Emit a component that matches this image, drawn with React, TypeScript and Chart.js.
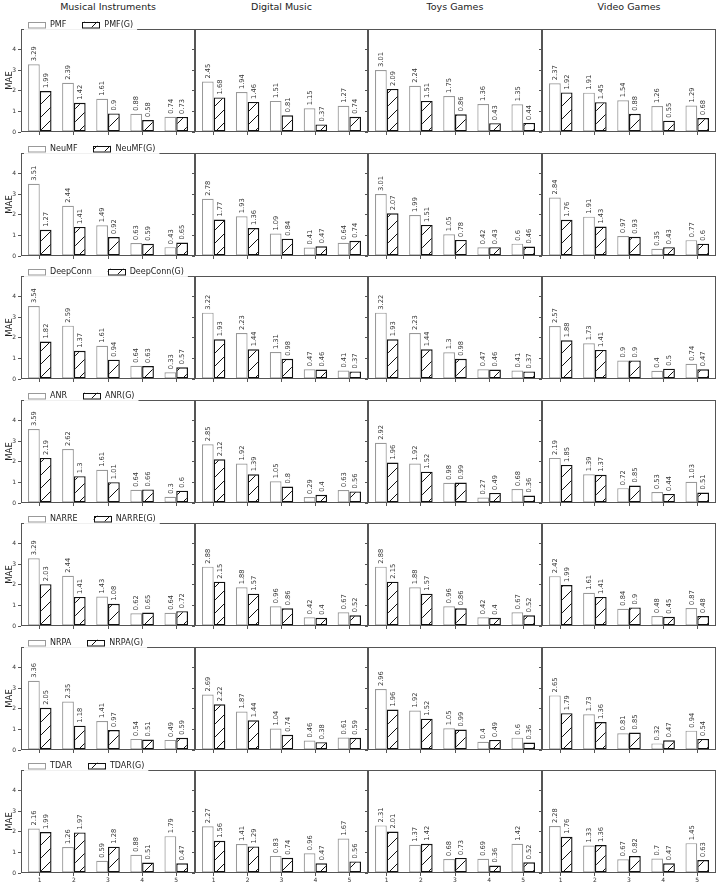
import React, { useEffect, useRef } from 'react';
import { Chart, registerables } from 'chart.js';

Chart.register(...registerables);

const FONT = '"DejaVu Sans", sans-serif';

const datasetTitles = ['Musical Instruments', 'Digital Music', 'Toys Games', 'Video Games'];
const modelNames = ['PMF', 'NeuMF', 'DeepConn', 'ANR', 'NARRE', 'NRPA', 'TDAR'];
const categories = [1, 2, 3, 4, 5];
const xTickLabels = ['1', '2', '3', '4', '5'];
const yTickValues = [0, 1, 2, 3, 4];
const yLabel = 'MAE';

// inner order: Musical Instruments, Digital Music, Toys Games, Video Games
const pmfBase = [
  [3.29, 2.39, 1.61, 0.88, 0.74],
  [2.45, 1.94, 1.51, 1.15, 1.27],
  [3.01, 2.24, 1.75, 1.36, 1.35],
  [2.37, 1.91, 1.54, 1.26, 1.29],
];
const pmfGraph = [
  [1.99, 1.42, 0.9, 0.58, 0.73],
  [1.68, 1.46, 0.81, 0.37, 0.74],
  [2.09, 1.51, 0.86, 0.43, 0.44],
  [1.92, 1.45, 0.88, 0.55, 0.68],
];
const neumfBase = [
  [3.51, 2.44, 1.49, 0.63, 0.43],
  [2.78, 1.93, 1.09, 0.41, 0.64],
  [3.01, 1.99, 1.05, 0.42, 0.6],
  [2.84, 1.91, 0.97, 0.35, 0.77],
];
const neumfGraph = [
  [1.27, 1.41, 0.92, 0.59, 0.65],
  [1.77, 1.36, 0.84, 0.47, 0.74],
  [2.07, 1.51, 0.78, 0.43, 0.46],
  [1.76, 1.43, 0.93, 0.43, 0.6],
];
const deepconnBase = [
  [3.54, 2.59, 1.61, 0.64, 0.33],
  [3.22, 2.23, 1.31, 0.47, 0.41],
  [3.22, 2.23, 1.3, 0.47, 0.41],
  [2.57, 1.73, 0.9, 0.4, 0.74],
];
const deepconnGraph = [
  [1.82, 1.37, 0.94, 0.63, 0.57],
  [1.93, 1.44, 0.98, 0.46, 0.37],
  [1.93, 1.44, 0.98, 0.46, 0.37],
  [1.88, 1.41, 0.9, 0.5, 0.47],
];
const anrBase = [
  [3.59, 2.62, 1.61, 0.64, 0.3],
  [2.85, 1.92, 1.05, 0.29, 0.63],
  [2.92, 1.92, 0.98, 0.27, 0.68],
  [2.19, 1.39, 0.72, 0.53, 1.03],
];
const anrGraph = [
  [2.19, 1.3, 1.01, 0.66, 0.6],
  [2.12, 1.39, 0.8, 0.4, 0.56],
  [1.96, 1.52, 0.99, 0.49, 0.36],
  [1.85, 1.37, 0.85, 0.44, 0.51],
];
const narreBase = [
  [3.29, 2.44, 1.43, 0.62, 0.64],
  [2.88, 1.88, 0.96, 0.42, 0.67],
  [2.88, 1.88, 0.96, 0.42, 0.67],
  [2.42, 1.61, 0.84, 0.48, 0.87],
];
const narreGraph = [
  [2.03, 1.41, 1.08, 0.65, 0.72],
  [2.15, 1.57, 0.86, 0.4, 0.52],
  [2.15, 1.57, 0.86, 0.4, 0.52],
  [1.99, 1.41, 0.9, 0.45, 0.48],
];
const nrpaBase = [
  [3.36, 2.35, 1.41, 0.54, 0.49],
  [2.69, 1.87, 1.04, 0.46, 0.61],
  [2.96, 1.92, 1.05, 0.4, 0.6],
  [2.65, 1.73, 0.81, 0.32, 0.94],
];
const nrpaGraph = [
  [2.05, 1.18, 0.97, 0.51, 0.59],
  [2.22, 1.44, 0.74, 0.38, 0.59],
  [1.96, 1.52, 0.99, 0.49, 0.36],
  [1.79, 1.36, 0.85, 0.47, 0.54],
];
const tdarBase = [
  [2.16, 1.26, 0.59, 0.88, 1.79],
  [2.27, 1.41, 0.83, 0.96, 1.67],
  [2.31, 1.37, 0.68, 0.69, 1.42],
  [2.28, 1.33, 0.67, 0.7, 1.45],
];
const tdarGraph = [
  [1.99, 1.97, 1.28, 0.51, 0.47],
  [1.56, 1.29, 0.74, 0.47, 0.56],
  [2.01, 1.42, 0.73, 0.36, 0.52],
  [1.76, 1.36, 0.82, 0.47, 0.63],
];

const baseSeries = [pmfBase, neumfBase, deepconnBase, anrBase, narreBase, nrpaBase, tdarBase];
const graphSeries = [pmfGraph, neumfGraph, deepconnGraph, anrGraph, narreGraph, nrpaGraph, tdarGraph];

// layout (pixels)
const colX = [21, 195, 368, 542, 716];
const rowY = [29, 153, 276, 400, 523, 647, 770];
const PANEL_H = 103;
const Y_MAX = 5;
const X_MIN = 0.45;
const X_MAX = 5.55;

function makeHatch(): CanvasPattern | string {
  const s = 13;
  const t = document.createElement('canvas');
  t.width = s;
  t.height = s;
  const g = t.getContext('2d');
  if (!g) return '#fff';
  g.fillStyle = '#ffffff';
  g.fillRect(0, 0, s, s);
  g.strokeStyle = '#111111';
  g.lineWidth = 1;
  g.beginPath();
  for (const o of [-s, 0, s]) {
    g.moveTo(o, s);
    g.lineTo(o + s, 0);
  }
  g.stroke();
  const p = g.createPattern(t, 'repeat');
  return p || '#fff';
}

function Panel({ r, c }: { r: number; c: number }) {
  const ref = useRef<HTMLCanvasElement>(null);
  const L = colX[c];
  const W = colX[c + 1] - colX[c];
  const T = rowY[r];
  const padL = c === 0 ? L : 6;
  const padT = 14;
  const padB = 14;
  const padR = 3;
  const left = L - padL;
  const top = T - padT;
  const cw = padL + W + padR;
  const ch = padT + PANEL_H + padB;

  useEffect(() => {
    const canvas = ref.current;
    if (!canvas) return;
    const hatch = makeHatch();
    const base = baseSeries[r][c];
    const graph = graphSeries[r][c];
    const name = modelNames[r];

    const panelPlugin = {
      id: 'panelDeco',
      afterDatasetsDraw(chart: any) {
        const ctx = chart.ctx as CanvasRenderingContext2D;
        const ca = chart.chartArea;
        ctx.save();
        // frame
        ctx.strokeStyle = '#555555';
        ctx.lineWidth = 1;
        const x1 = Math.round(ca.left) + 0.5;
        const y1 = Math.round(ca.top) + 0.5;
        const x2 = Math.round(ca.right) - 0.5;
        const y2 = Math.round(ca.bottom) - 0.5;
        ctx.strokeRect(x1, y1, x2 - x1, y2 - y1);
        // value labels
        ctx.font = `6.7px ${FONT}`;
        ctx.fillStyle = '#333333';
        ctx.textAlign = 'left';
        ctx.textBaseline = 'middle';
        chart.data.datasets.forEach((ds: any, di: number) => {
          const meta = chart.getDatasetMeta(di);
          meta.data.forEach((el: any, i: number) => {
            const v = ds.data[i].y;
            ctx.save();
            ctx.translate(el.x, el.y - 3);
            ctx.rotate(-Math.PI / 2);
            ctx.fillText(String(v), 0, 0.5);
            ctx.restore();
          });
        });
        ctx.restore();
      },
      afterDraw(chart: any) {
        if (c !== 0) return;
        const ctx = chart.ctx as CanvasRenderingContext2D;
        const ca = chart.chartArea;
        ctx.save();
        ctx.font = `8px ${FONT}`;
        const sw = 17;
        const sh = 5.5;
        const gap = 5;
        const colGap = 16;
        const labels: string[] = chart.data.datasets.map((d: any) => d.label);
        const widths = labels.map((l) => ctx.measureText(l).width);
        let total = 0;
        widths.forEach((w, i) => {
          total += sw + gap + w + (i ? colGap : 0);
        });
        const x0 = ca.left + 7;
        const yc = ca.top - 4.5;
        ctx.fillStyle = 'rgba(255,255,255,0.92)';
        ctx.fillRect(x0 - 4, yc - 6, total + 8, 12);
        let x = x0;
        labels.forEach((l, i) => {
          ctx.fillStyle = i ? (hatch as any) : '#ffffff';
          ctx.fillRect(x, yc - sh / 2, sw, sh);
          ctx.strokeStyle = i ? '#111111' : '#999999';
          ctx.lineWidth = 1;
          ctx.strokeRect(Math.round(x) + 0.5, Math.round(yc - sh / 2) + 0.5, sw, sh);
          ctx.fillStyle = '#222222';
          ctx.textAlign = 'left';
          ctx.textBaseline = 'middle';
          ctx.fillText(l, x + sw + gap, yc + 0.5);
          x += sw + gap + widths[i] + colGap;
        });
        ctx.restore();
      },
    };

    const chart = new Chart(canvas, {
      type: 'bar',
      data: {
        datasets: [
          {
            label: name,
            data: categories.map((x, i) => ({ x, y: base[i] })),
            backgroundColor: '#ffffff',
            borderColor: '#999999',
            borderWidth: 1.2,
            borderSkipped: false,
            categoryPercentage: 0.69,
            barPercentage: 1,
          },
          {
            label: name + '(G)',
            data: categories.map((x, i) => ({ x, y: graph[i] })),
            backgroundColor: hatch as any,
            borderColor: '#111111',
            borderWidth: 1.4,
            borderSkipped: false,
            categoryPercentage: 0.69,
            barPercentage: 1,
          },
        ],
      } as any,
      options: {
        animation: false,
        responsive: false,
        maintainAspectRatio: false,
        devicePixelRatio: 1,
        events: [],
        layout: { padding: { top: padT, right: padR, left: 0, bottom: 0 } },
        plugins: {
          legend: { display: false },
          tooltip: { enabled: false },
          title: { display: false },
        },
        scales: {
          x: {
            type: 'linear',
            min: X_MIN,
            max: X_MAX,
            offset: false,
            afterBuildTicks: (s: any) => {
              s.ticks = categories.map((v) => ({ value: v }));
            },
            afterFit: (s: any) => {
              s.height = padB;
            },
            ticks: {
              display: r === modelNames.length - 1,
              autoSkip: false,
              maxRotation: 0,
              padding: 1,
              color: '#333333',
              font: { size: 6, family: FONT },
              callback: (v: any) => {
                const idx = categories.indexOf(Number(v));
                return idx >= 0 ? xTickLabels[idx] : '';
              },
            },
            grid: {
              display: true,
              offset: false,
              drawOnChartArea: false,
              drawTicks: true,
              tickLength: 3,
              tickColor: '#555555',
            },
            border: { display: false },
          },
          y: {
            type: 'linear',
            min: 0,
            max: Y_MAX,
            afterBuildTicks: (s: any) => {
              s.ticks = yTickValues.map((v) => ({ value: v }));
            },
            afterFit: (s: any) => {
              s.width = padL;
            },
            ticks: {
              display: c === 0,
              padding: 2,
              color: '#333333',
              font: { size: 6, family: FONT },
              callback: (v: any) => String(v),
            },
            grid: {
              display: true,
              offset: false,
              drawOnChartArea: false,
              drawTicks: true,
              tickLength: 3,
              tickColor: '#555555',
            },
            border: { display: false },
            title: {
              display: c === 0,
              text: yLabel,
              color: '#222222',
              font: { size: 8.5, family: FONT },
              padding: { top: 5, bottom: 0 },
            },
          },
        },
      } as any,
      plugins: [panelPlugin],
    });
    return () => chart.destroy();
  }, [r, c]);

  return (
    <canvas
      ref={ref}
      width={cw}
      height={ch}
      style={{ position: 'absolute', left, top, width: cw, height: ch }}
    />
  );
}

export default function App() {
  const panels: React.ReactNode[] = [];
  for (let r = 0; r < modelNames.length; r++) {
    for (let c = 0; c < datasetTitles.length; c++) {
      panels.push(<Panel key={`${r}-${c}`} r={r} c={c} />);
    }
  }
  return (
    <div
      style={{
        position: 'absolute',
        left: 0,
        top: 0,
        width: 722,
        height: 884,
        background: '#ffffff',
        fontFamily: FONT,
        overflow: 'hidden',
      }}
    >
      {datasetTitles.map((t, c) => (
        <div
          key={t}
          style={{
            position: 'absolute',
            left: colX[c],
            width: colX[c + 1] - colX[c],
            top: 1,
            textAlign: 'center',
            fontSize: 9.5,
            lineHeight: '12px',
            color: '#222222',
            whiteSpace: 'nowrap',
          }}
        >
          {t}
        </div>
      ))}
      {panels}
    </div>
  );
}
